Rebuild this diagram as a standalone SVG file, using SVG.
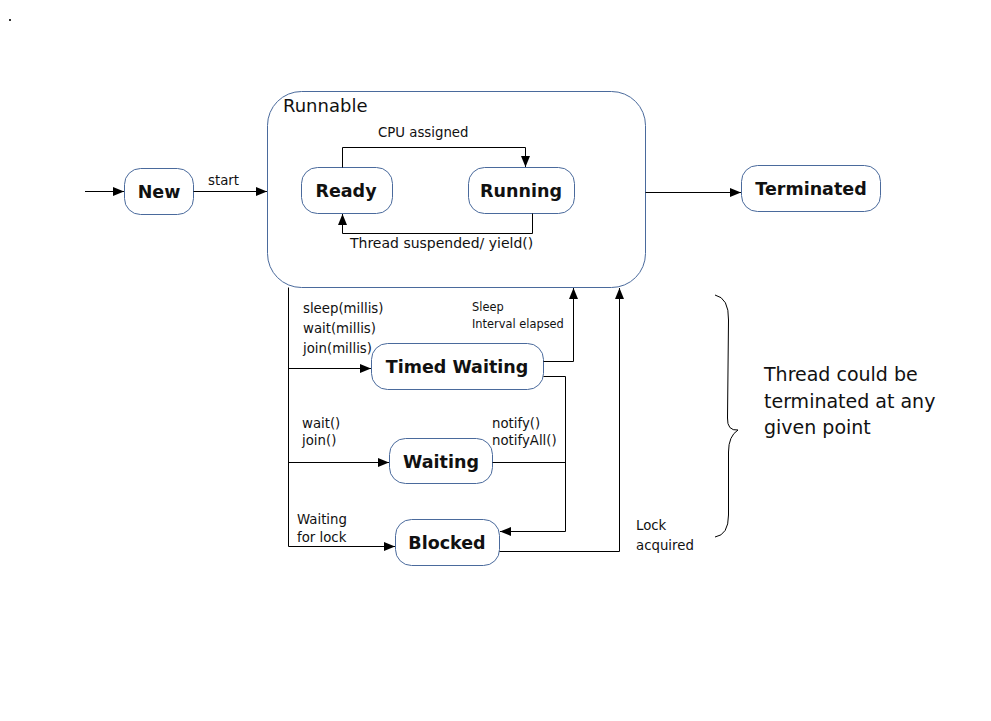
<svg xmlns="http://www.w3.org/2000/svg" width="991" height="721" viewBox="0 0 991 721">
<style>
  .node { fill: #ffffff; stroke: #4a6a9c; stroke-width: 1; }
  .nlabel { font-family: "DejaVu Sans", "Liberation Sans", sans-serif; font-weight: bold; font-size: 17.5px; fill: #111; text-anchor: middle; }
  .lbl { font-family: "DejaVu Sans", "Liberation Sans", sans-serif; font-size: 13.3px; fill: #111; }
  .sm { font-family: "DejaVu Sans", "Liberation Sans", sans-serif; font-size: 11.4px; fill: #111; }
  .big { font-family: "DejaVu Sans", "Liberation Sans", sans-serif; font-size: 19px; fill: #111; }
  .conn { fill: none; stroke: #000; stroke-width: 1; }
</style>
<defs>
  <marker id="arr" markerUnits="userSpaceOnUse" markerWidth="12" markerHeight="10" refX="11" refY="5" orient="auto">
    <path d="M0,0.5 L11,5 L0,9.5 z" fill="#000"/>
  </marker>
</defs>
<rect width="991" height="721" fill="#ffffff"/>
<rect x="9" y="19" width="2" height="2" fill="#333"/>

<g id="runnable">
  <rect class="node" x="267.5" y="91.5" width="378" height="196" rx="34" ry="34"/>
  <text x="283" y="112" class="big" style="font-size:18px">Runnable</text>
</g>
<g id="new">
  <rect class="node" x="124.5" y="168.5" width="69" height="46" rx="16" ry="16"/>
  <text x="159" y="198" class="nlabel">New</text>
</g>
<g id="ready">
  <rect class="node" x="301.5" y="167.5" width="91" height="46" rx="16" ry="16"/>
  <text x="346" y="197" class="nlabel">Ready</text>
</g>
<g id="running">
  <rect class="node" x="468.5" y="167.5" width="106" height="46" rx="16" ry="16"/>
  <text x="521" y="197" class="nlabel">Running</text>
</g>
<g id="terminated">
  <rect class="node" x="741.5" y="165.5" width="139" height="46" rx="16" ry="16"/>
  <text x="811" y="195" class="nlabel">Terminated</text>
</g>
<g id="timed-waiting">
  <rect class="node" x="371.5" y="343.5" width="172" height="46" rx="16" ry="16"/>
  <text x="457" y="373" class="nlabel">Timed Waiting</text>
</g>
<g id="waiting">
  <rect class="node" x="389.5" y="438.5" width="103" height="45" rx="16" ry="16"/>
  <text x="441" y="468" class="nlabel">Waiting</text>
</g>
<g id="blocked">
  <rect class="node" x="395.5" y="519.5" width="104" height="46" rx="16" ry="16"/>
  <text x="447" y="549" class="nlabel">Blocked</text>
</g>

<g id="connectors">
  <path class="conn" d="M85,191.5 H124" marker-end="url(#arr)"/>
  <path class="conn" d="M193.5,191.5 H267" marker-end="url(#arr)"/>
  <path class="conn" d="M342.5,167.5 V147.5 H525.5 V167" marker-end="url(#arr)"/>
  <path class="conn" d="M532.5,213.5 V233.5 H342.5 V214" marker-end="url(#arr)"/>
  <path class="conn" d="M645.5,192.5 H741" marker-end="url(#arr)"/>
  <path class="conn" d="M288.5,287.5 V546.5"/>
  <path class="conn" d="M288.5,368.5 H371" marker-end="url(#arr)"/>
  <path class="conn" d="M288.5,462.5 H389" marker-end="url(#arr)"/>
  <path class="conn" d="M288.5,546.5 H395" marker-end="url(#arr)"/>
  <path class="conn" d="M543.5,361.5 H573.5 V288" marker-end="url(#arr)"/>
  <path class="conn" d="M543.5,376.5 H565.5 V531.5 H500" marker-end="url(#arr)"/>
  <path class="conn" d="M492.5,462.5 H565.5"/>
  <path class="conn" d="M499.5,551.5 H619.5 V288" marker-end="url(#arr)"/>
</g>

<g id="labels">
  <text x="208" y="185" class="lbl">start</text>
  <text x="378" y="137" class="lbl">CPU assigned</text>
  <text x="350" y="248" class="lbl" style="font-size:14px">Thread suspended/ yield()</text>
  <text x="303" y="313" class="lbl">sleep(millis)</text>
  <text x="303" y="333" class="lbl">wait(millis)</text>
  <text x="303" y="353" class="lbl">join(millis)</text>
  <text x="472" y="311" class="sm">Sleep</text>
  <text x="472" y="328" class="sm">Interval elapsed</text>
  <text x="302" y="428" class="lbl">wait()</text>
  <text x="302" y="445" class="lbl">join()</text>
  <text x="492" y="428" class="lbl">notify()</text>
  <text x="492" y="445" class="lbl">notifyAll()</text>
  <text x="297" y="524" class="lbl">Waiting</text>
  <text x="297" y="542" class="lbl">for lock</text>
  <text x="636" y="530" class="lbl">Lock</text>
  <text x="636" y="550" class="lbl">acquired</text>
</g>

<g id="note">
  <path class="conn" d="M715,295 Q729,298 728.5,320 L727.5,418 Q727,431 738,430 Q728.5,436 728.5,452 L728.5,515 Q728.5,535 715,537"/>
  <text x="764" y="381" class="big">Thread could be</text>
  <text x="764" y="408" class="big">terminated at any</text>
  <text x="764" y="434" class="big">given point</text>
</g>
</svg>
